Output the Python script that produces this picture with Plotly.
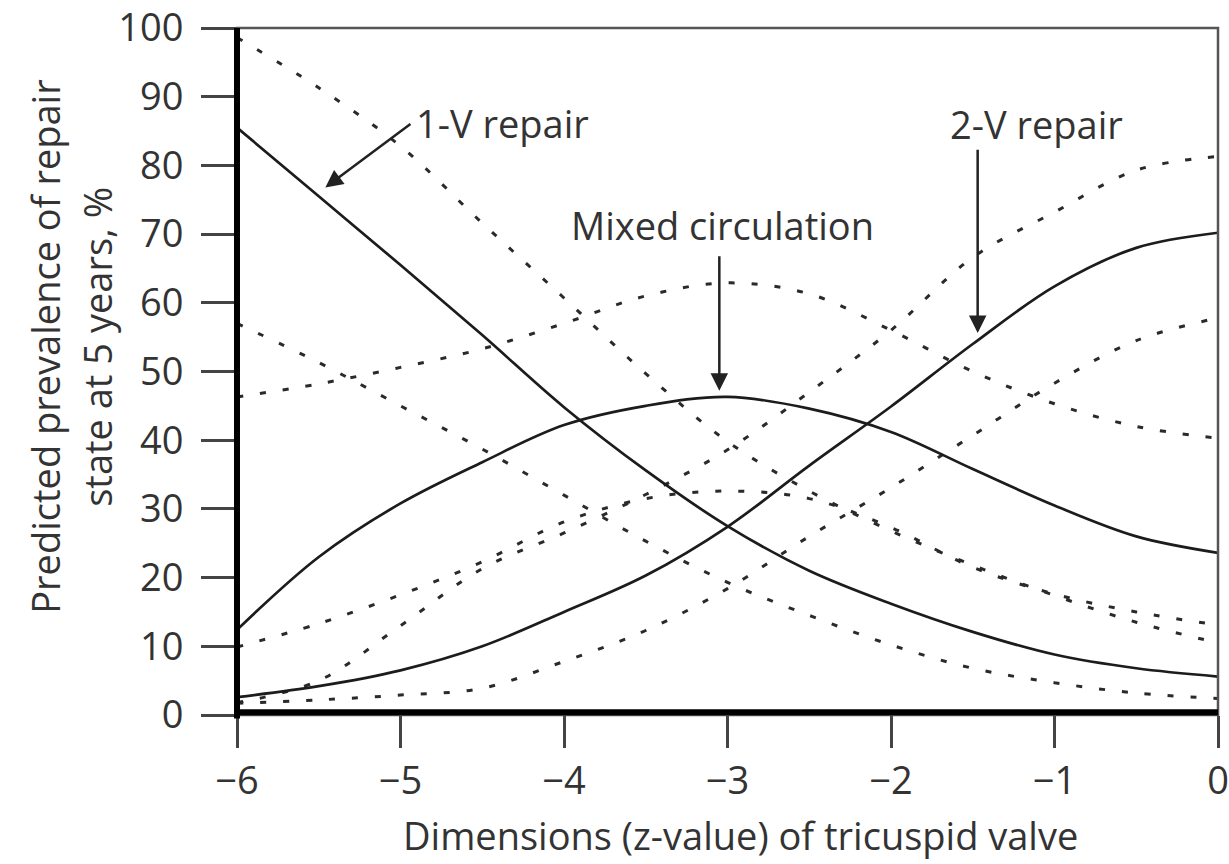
import plotly.graph_objects as go

# ---- data ----
z = [-6, -5.5, -5, -4.5, -4, -3.5, -3, -2.5, -2, -1.5, -1, -0.5, 0]

one_v       = [85.5, 75.5, 65.5, 55.3, 44.8, 35.6, 27.5, 21.0, 16.2, 12.1, 8.8, 6.8, 5.6]
one_v_upper = [98.6, 91.3, 82.8, 71.6, 60.7, 49.7, 39.8, 32.6, 26.8, 21.8, 17.4, 13.5, 10.5]
one_v_lower = [57.0, 51.3, 45.0, 38.7, 32.0, 25.3, 19.3, 14.5, 10.2, 6.8, 4.7, 3.2, 2.4]

mixed       = [12.4, 23.0, 30.8, 36.8, 42.2, 45.0, 46.3, 44.6, 41.2, 35.8, 30.5, 26.0, 23.6]
mixed_upper = [46.3, 48.2, 50.6, 53.3, 57.0, 61.0, 62.9, 61.3, 56.0, 50.0, 45.3, 42.0, 40.3]
mixed_lower = [9.9, 13.3, 17.5, 22.3, 28.1, 31.5, 32.6, 31.5, 27.3, 21.5, 17.6, 15.0, 13.1]

two_v       = [2.6, 4.2, 6.5, 10.0, 15.0, 20.3, 27.4, 36.3, 44.9, 54.0, 62.4, 68.0, 70.2]
two_v_upper = [1.8, 5.0, 13.0, 21.3, 26.5, 32.1, 38.6, 47.0, 56.0, 66.6, 73.2, 79.3, 81.3]
two_v_lower = [1.7, 2.2, 2.9, 3.9, 7.8, 12.3, 18.4, 26.0, 33.1, 40.7, 48.3, 54.5, 57.8]

x_ticks = [-6, -5, -4, -3, -2, -1, 0]
y_ticks = [0, 10, 20, 30, 40, 50, 60, 70, 80, 90, 100]

FONT = "Open Sans"
TXT = "#333333"
FS = 38

fig = go.Figure()

solid = dict(color="#1c1c1c", width=2.7, shape="spline", smoothing=1.0)
dashed = dict(color="#2a2a2a", width=3, dash="6px,17px", shape="spline", smoothing=1.0)

for s in [one_v_upper, one_v_lower, mixed_upper, mixed_lower, two_v_upper, two_v_lower]:
    fig.add_trace(go.Scatter(x=z, y=s, mode="lines", line=dashed, hoverinfo="skip"))
for s in [one_v, mixed, two_v]:
    fig.add_trace(go.Scatter(x=z, y=s, mode="lines", line=solid, hoverinfo="skip"))

fig.update_layout(
    width=1229, height=864,
    margin=dict(l=237, r=11, t=28, b=149, autoexpand=False),
    paper_bgcolor="white", plot_bgcolor="white",
    showlegend=False,
    font=dict(family=FONT, color=TXT, size=FS),
    xaxis=dict(range=[-6, 0], tickvals=x_ticks, ticks="outside", ticklen=32,
               tickwidth=2.5, tickcolor="#444", showgrid=False, zeroline=False,
               showline=False, ticklabelstandoff=0, automargin=False,
               tickfont=dict(size=FS, color=TXT, family=FONT)),
    yaxis=dict(range=[0, 100], tickvals=y_ticks, ticks="outside", ticklen=35,
               tickwidth=2.5, tickcolor="#444", showgrid=False, zeroline=False,
               showline=False, ticklabelstandoff=10, automargin=False,
               tickfont=dict(size=FS, color=TXT, family=FONT)),
)

# plot frame: thin top/right, thick left/bottom
fig.add_shape(type="rect", xref="paper", yref="paper", x0=0, x1=1, y0=0, y1=1,
              line=dict(color="#555", width=2.5), layer="above")
fig.add_shape(type="line", xref="paper", yref="paper", x0=0, x1=0, y0=-0.005, y1=1,
              line=dict(color="black", width=6), layer="above")
fig.add_shape(type="line", xref="paper", yref="paper", x0=0, x1=1, y0=0.004, y1=0.004,
              line=dict(color="black", width=6), layer="above")

# axis titles
fig.add_annotation(text="Dimensions (z-value) of tricuspid valve", xref="paper", yref="paper",
                   x=0.513, y=-0.175, showarrow=False, yanchor="middle",
                   font=dict(size=FS, color=TXT, family=FONT))
fig.add_annotation(text="Predicted prevalence of repair", xref="paper", yref="paper",
                   x=(45 - 237) / 981, y=0.536, textangle=-90, showarrow=False,
                   xanchor="center", yanchor="middle",
                   font=dict(size=FS, color=TXT, family=FONT))
fig.add_annotation(text="state at 5 years, %", xref="paper", yref="paper",
                   x=(97 - 237) / 981, y=0.536, textangle=-90, showarrow=False,
                   xanchor="center", yanchor="middle",
                   font=dict(size=FS, color=TXT, family=FONT))

# labels
fig.add_annotation(text="1-V repair", x=-4.92, y=86.2, xanchor="left", showarrow=False,
                   font=dict(size=FS, color=TXT, family=FONT))
fig.add_annotation(text="Mixed circulation", x=-3.03, y=71.3, showarrow=False,
                   font=dict(size=FS, color=TXT, family=FONT))
fig.add_annotation(text="2-V repair", x=-1.11, y=86.0, showarrow=False,
                   font=dict(size=FS, color=TXT, family=FONT))

# arrows
arrow = dict(showarrow=True, arrowhead=2, arrowsize=1.4, arrowwidth=2.5,
             arrowcolor="#222", axref="x", ayref="y", text="")
fig.add_annotation(x=-5.46, y=76.8, ax=-4.93, ay=86.2, **arrow)
fig.add_annotation(x=-3.05, y=47.2, ax=-3.05, ay=67.0, **arrow)
fig.add_annotation(x=-1.47, y=55.6, ax=-1.47, ay=82.5, **arrow)

fig.write_html("out.html")
